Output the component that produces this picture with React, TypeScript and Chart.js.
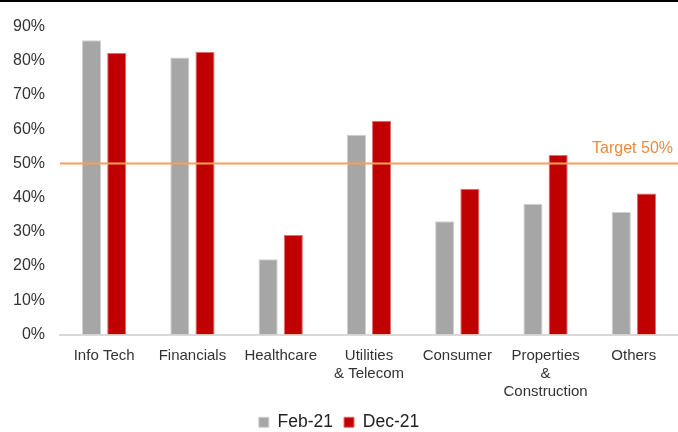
import React, { useEffect, useRef } from "react";
import { Chart, registerables } from "chart.js";

Chart.register(...registerables);

const categories: (string | string[])[] = [
  "Info Tech",
  "Financials",
  "Healthcare",
  ["Utilities", "& Telecom"],
  "Consumer",
  ["Properties", "&", "Construction"],
  "Others",
];
const feb21 = [86, 81, 22, 58.4, 33.1, 38.2, 35.8];
const dec21 = [82.3, 82.6, 29.1, 62.5, 42.6, 52.5, 41.2];
const yTicks = [0, 10, 20, 30, 40, 50, 60, 70, 80, 90];
const target = 50;
const targetLabel = "Target 50%";

const FONT = "'Liberation Sans', Arial, sans-serif";

const targetPlugin = {
  id: "targetLine",
  afterDatasetsDraw(chart: any) {
    const { ctx, chartArea, scales } = chart;
    const y = scales.y.getPixelForValue(target);
    ctx.save();
    ctx.strokeStyle = "#F5A05E";
    ctx.lineWidth = 2;
    ctx.beginPath();
    ctx.moveTo(chartArea.left, y);
    ctx.lineTo(chartArea.right, y);
    ctx.stroke();
    ctx.fillStyle = "#EE8A3C";
    ctx.font = `16px ${FONT}`;
    ctx.textAlign = "right";
    ctx.textBaseline = "bottom";
    ctx.fillText(targetLabel, chartArea.right - 5, y - 7);
    ctx.restore();
  },
};

export default function App() {
  const ref = useRef<HTMLCanvasElement>(null);
  useEffect(() => {
    if (!ref.current) return;
    const chart = new Chart(ref.current, {
      type: "bar",
      data: {
        labels: categories as any,
        datasets: [
          {
            label: "Feb-21",
            data: feb21,
            backgroundColor: "#A6A6A6",
            borderColor: "#D0D0D0",
            borderWidth: 1,
            categoryPercentage: 0.57,
            barPercentage: 0.76,
          },
          {
            label: "Dec-21",
            data: dec21,
            backgroundColor: "#C00000",
            borderColor: "#E07070",
            borderWidth: 1,
            categoryPercentage: 0.57,
            barPercentage: 0.76,
          },
        ],
      },
      options: {
        animation: false,
        responsive: true,
        maintainAspectRatio: false,
        layout: { padding: { top: 14, right: 0, left: 0, bottom: -9 } },
        plugins: {
          legend: {
            position: "bottom",
            labels: {
              font: { family: FONT, size: 17.5 },
              color: "#222",
              boxWidth: 10,
              boxHeight: 10,
              padding: 11,
            },
          },
          tooltip: { enabled: false },
        },
        scales: {
          x: {
            grid: { display: false, drawTicks: false },
            border: { display: true, color: "#D9D9D9", width: 2 },
            ticks: {
              font: { family: FONT, size: 15 },
              color: "#333",
              padding: 12,
              maxRotation: 0,
              autoSkip: false,
            },
            afterFit(scale: any) {
              scale.height = 68;
            },
          },
          y: {
            min: 0,
            max: 90,
            afterBuildTicks(scale: any) {
              scale.ticks = yTicks.map((v) => ({ value: v }));
            },
            grid: { display: false, drawTicks: false },
            border: { display: false },
            ticks: {
              font: { family: FONT, size: 16 },
              color: "#333",
              padding: 15,
              callback: (v: any) => `${v}%`,
            },
            afterFit(scale: any) {
              scale.width = 60;
            },
          },
        },
      },
      plugins: [targetPlugin],
    });
    return () => chart.destroy();
  }, []);

  return (
    <div
      style={{
        position: "fixed",
        left: 0,
        top: 0,
        width: 678,
        height: 432,
        background: "#fff",
        borderTop: "2px solid #000",
        boxSizing: "border-box",
      }}
    >
      <canvas ref={ref} />
    </div>
  );
}
